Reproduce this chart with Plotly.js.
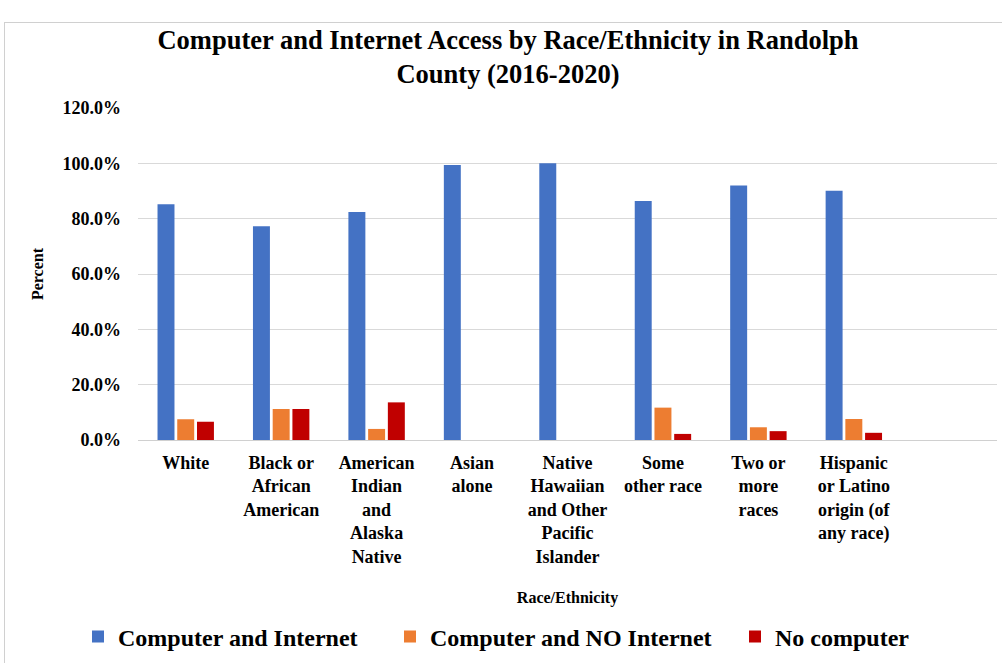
<!DOCTYPE html>
<html>
<head>
<meta charset="utf-8">
<script src="https://cdn.plot.ly/plotly-3.0.1.min.js"></script>
<style>
  html, body { margin: 0; padding: 0; background: #fff; }
  #wrap { position: relative; width: 1002px; height: 663px; overflow: hidden; }
  #chart { position: absolute; left: 0; top: 0; width: 1002px; height: 663px; }
  #frame { position: absolute; left: 4px; top: 22px; width: 1010px; height: 660px; border: 1px solid #d0d0d0; pointer-events: none; }
</style>
</head>
<body>
<div id="wrap">
  <div id="chart"></div>
  <div id="frame"></div>
</div>
<script>
const categories = [
  "White",
  "Black or<br>African<br>American",
  "American<br>Indian<br>and<br>Alaska<br>Native",
  "Asian<br>alone",
  "Native<br>Hawaiian<br>and Other<br>Pacific<br>Islander",
  "Some<br>other race",
  "Two or<br>more<br>races",
  "Hispanic<br>or Latino<br>origin (of<br>any race)"
];
const seriesNames = ["Computer and Internet", "Computer and NO Internet", "No computer"];
const computerAndInternet = [0.852, 0.773, 0.824, 0.994, 1.000, 0.864, 0.920, 0.901];
const computerNoInternet  = [0.075, 0.112, 0.040, 0, 0, 0.117, 0.046, 0.076];
const noComputer          = [0.066, 0.112, 0.136, 0, 0, 0.022, 0.032, 0.026];
const yTicks = [0, 0.2, 0.4, 0.6, 0.8, 1.0, 1.2];
const colors = ["#4472C4", "#ED7D31", "#C00000"];

const font = "'Liberation Serif', 'Times New Roman', serif";
const legendIds = ["legend", "legend2", "legend3"];
const legendLeft = [78, 390, 735];
const values = [computerAndInternet, computerNoInternet, noComputer];
const traces = values.map((v, i) => ({
  type: "bar",
  name: seriesNames[i],
  x: categories,
  y: v,
  marker: { color: colors[i] },
  legend: legendIds[i],
  hoverinfo: "skip"
}));

const layout = {
  width: 1002,
  height: 663,
  paper_bgcolor: "#ffffff",
  plot_bgcolor: "#ffffff",
  margin: { l: 138, r: 5, t: 108, b: 223 },
  barmode: "group",
  bargap: 0.38,
  bargroupgap: 0.14,
  font: { family: font, color: "#000000" },
  title: {
    text: "<b>Computer and Internet Access by Race/Ethnicity in Randolph<br>County (2016-2020)</b>",
    font: { family: font, size: 26.5, color: "#000000" },
    x: 0.507, xref: "container", xanchor: "center",
    y: 1 - 49 / 663, yref: "container", yanchor: "top"
  },
  xaxis: {
    type: "category",
    range: [-0.5, 8.5],
    showgrid: false,
    showline: false,
    ticks: "",
    ticklabelstandoff: 10,
    tickfont: { family: font, size: 18, color: "#000000", weight: "bold" },
    tickangle: 0,
    title: { text: "<b>Race/Ethnicity</b>", font: { family: font, size: 16, color: "#000000" }, standoff: 26 },
    fixedrange: true
  },
  yaxis: {
    range: [0, 1.2],
    tickvals: yTicks,
    tickformat: ".1%",
    showgrid: true,
    gridcolor: "#d9d9d9",
    gridwidth: 1,
    zeroline: true,
    zerolinecolor: "#d0d0d0",
    zerolinewidth: 1,
    showline: false,
    ticks: "",
    ticklabelstandoff: 16,
    tickfont: { family: font, size: 18, color: "#000000", weight: "bold" },
    title: { text: "<b>Percent</b>", font: { family: font, size: 16, color: "#000000" }, standoff: 14 },
    fixedrange: true
  },
  showlegend: true
};

legendIds.forEach((id, i) => {
  layout[id] = {
    orientation: "h",
    x: legendLeft[i] / 1002, xref: "container", xanchor: "left",
    y: 1 - 637 / 663, yref: "container", yanchor: "middle",
    font: { family: font, size: 24, color: "#000000", weight: "bold" },
    itemwidth: 30,
    bgcolor: "rgba(0,0,0,0)"
  };
});

Plotly.newPlot("chart", traces, layout, { displayModeBar: false, staticPlot: true });
</script>
</body>
</html>
